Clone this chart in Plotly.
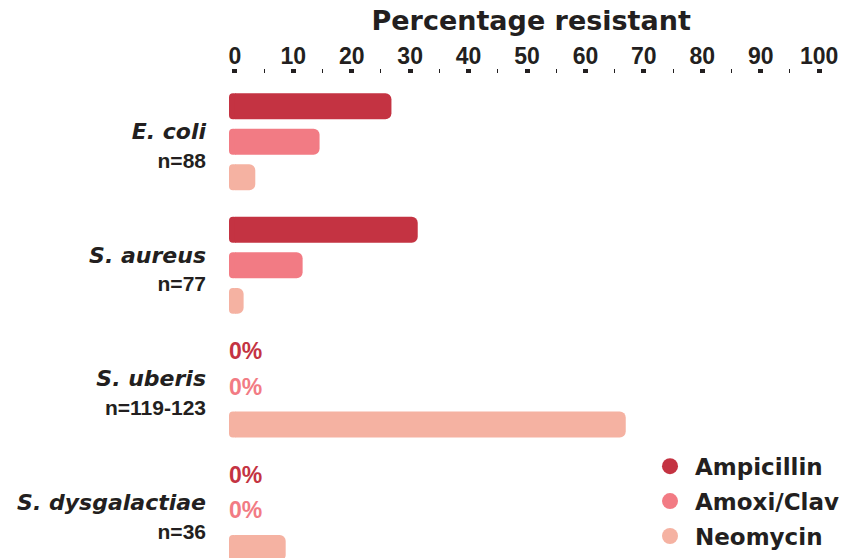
import plotly.graph_objects as go

# ---- data ----
species = ["E. coli", "S. aureus", "S. uberis", "S. dysgalactiae"]
n_labels = ["n=88", "n=77", "n=119-123", "n=36"]
antibiotics = ["Ampicillin", "Amoxi/Clav", "Neomycin"]
ampicillin = [26.8, 31.3, 0, 0]
amoxi_clav = [14.5, 11.6, 0, 0]
neomycin = [3.5, 1.5, 66.9, 8.7]
x_ticks = [0, 10, 20, 30, 40, 50, 60, 70, 80, 90, 100]

series = [ampicillin, amoxi_clav, neomycin]
colors = ["#C43342", "#F27B84", "#F5B2A2"]
dark = "#231F20"
WIDE = "DejaVu Sans"
NARROW = "Liberation Sans"
CAP = 1.0      # rounded start cap drawn left of zero (style)
OVERLAP = 0.5  # cap overlaps the bar start so no seam shows (style)

fig = go.Figure()
for i, (name, vals, col) in enumerate(zip(antibiotics, series, colors)):
    # rounded start cap for non-zero bars
    fig.add_trace(go.Bar(
        y=species, x=[-(CAP + OVERLAP) if v > 0 else 0 for v in vals],
        base=[OVERLAP if v > 0 else 0 for v in vals], orientation="h", name=name,
        marker=dict(color=col, line=dict(width=0)),
        showlegend=False, offsetgroup=str(i), hoverinfo="skip",
    ))
    # main bar (rounded far end)
    fig.add_trace(go.Bar(
        y=species, x=vals, orientation="h", name=name,
        marker=dict(color=col, line=dict(width=0)),
        showlegend=False, offsetgroup=str(i), hoverinfo="x+name",
    ))
    # "0%" labels for zero values
    fig.add_trace(go.Scatter(
        y=species, x=[-CAP if v == 0 else None for v in vals],
        mode="text", text=["0%" if v == 0 else "" for v in vals],
        textposition="middle right", orientation="h", offsetgroup=str(i),
        textfont=dict(family=NARROW, size=23, color=col, weight="bold"),
        showlegend=False, hoverinfo="skip", cliponaxis=False,
    ))
# legend entries as circles
for name, col in zip(antibiotics, colors):
    fig.add_trace(go.Scatter(
        x=[None], y=[None], mode="markers", name=name, legendgroup=name,
        marker=dict(color=col, size=21, symbol="circle"),
        showlegend=True,
    ))

ticktext = [
    f"<i>{s}</i><br><span style='font-family:{NARROW};font-size:21px;font-style:normal'>{n}</span>"
    for s, n in zip(species, n_labels)
]

fig.update_layout(
    width=844, height=558,
    margin=dict(l=229, r=14, t=74, b=0),
    paper_bgcolor="white", plot_bgcolor="white",
    barmode="group", bargap=0.138, bargroupgap=0.27, barcornerradius=6,
    scattermode="group", scattergap=0.138,
    title=dict(text="Percentage resistant", x=0.507, xref="paper",
               y=1 - 21 / 558, yref="container", yanchor="middle", xanchor="center",
               font=dict(family=WIDE, size=27, color=dark, weight="bold")),
    xaxis=dict(
        side="top", range=[-1.0, 101.0], tickvals=x_ticks, automargin=False,
        showgrid=False, zeroline=False, showline=False,
        ticks="outside", ticklen=4, tickwidth=5, tickcolor=dark,
        minor=dict(ticks="outside", ticklen=4, tickwidth=1, tickcolor=dark, dtick=5, tick0=0, showgrid=False),
        tickfont=dict(family=NARROW, size=23, color=dark, weight="bold"),
        ticklabeloverflow="allow", ticklabelstandoff=-4,
    ),
    yaxis=dict(
        categoryorder="array", categoryarray=species, automargin=False,
        range=[3.368, -0.548],
        tickvals=species, ticktext=ticktext,
        showgrid=False, zeroline=False, showline=False, ticks="",
        ticklabelstandoff=22, ticklabelshift=-4,
        tickfont=dict(family=WIDE, size=22, color=dark, weight="bold"),
    ),
    legend=dict(x=0.698, y=0.234, xanchor="left", yanchor="top",
                font=dict(family=WIDE, size=23, color=dark, weight="bold"),
                itemsizing="trace", itemwidth=40, tracegroupgap=2,
                bgcolor="rgba(0,0,0,0)"),
    showlegend=True,
)

fig.write_html("out.html", config={"displayModeBar": False},
               post_script="document.body.style.margin='0';")
